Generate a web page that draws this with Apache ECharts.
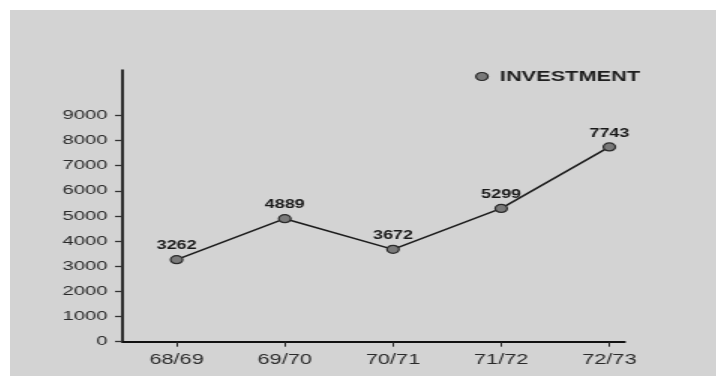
<!DOCTYPE html>
<html>
<head>
<meta charset="utf-8">
<script src="https://cdn.jsdelivr.net/npm/echarts@6/dist/echarts.min.js"></script>
<style>
  html, body { margin: 0; padding: 0; background: #ffffff; width: 716px; height: 376px; overflow: hidden; }
  #wrap { position: absolute; left: 10px; top: 10px; width: 706px; height: 366px; background: #d3d3d3; overflow: hidden; }
  #c { position: absolute; left: 0; top: 0; width: 470.67px; height: 366px; transform: scaleX(1.5); transform-origin: 0 0; }
</style>
</head>
<body>
<div id="wrap"><div id="c"></div></div>
<script>
const categories = ['68/69', '69/70', '70/71', '71/72', '72/73'];
const investment = [3262, 4889, 3672, 5299, 7743];
const yTicks = [0, 1000, 2000, 3000, 4000, 5000, 6000, 7000, 8000, 9000];
const seriesName = 'INVESTMENT';

const FONT = "'Liberation Sans', Arial, Helvetica, sans-serif";
const xIdx = categories.map((c, i) => i);

const chart = echarts.init(document.getElementById('c'), null, { renderer: 'canvas' });
chart.setOption({
  animation: false,
  backgroundColor: 'transparent',
  grid: { left: 75, top: 60, right: 61.33, bottom: 34.3, containLabel: false },
  legend: {
    data: [seriesName],
    left: 305,
    top: 54,
    icon: 'circle',
    itemWidth: 8,
    itemHeight: 8,
    itemStyle: { color: '#7a7a7a', borderColor: '#2a2a2a', borderWidth: 1.2 },
    textStyle: { fontFamily: FONT, fontSize: 14.5, fontWeight: 'bold', color: '#1e1e1e', padding: [0, 0, 0, 3] }
  },
  xAxis: {
    type: 'value',
    min: -0.5,
    max: 4.14,
    splitLine: { show: false },
    axisLine: { show: true, onZero: false, lineStyle: { color: '#111', width: 2 } },
    axisTick: { show: true, customValues: xIdx, length: 5, lineStyle: { color: '#222', width: 1 } },
    axisLabel: {
      customValues: xIdx,
      formatter: v => categories[Math.round(v)] || '',
      margin: 11,
      fontFamily: FONT, fontSize: 14.5, color: '#2a2a2a'
    }
  },
  yAxis: {
    type: 'value',
    min: 0,
    max: 10800,
    splitLine: { show: false },
    axisLine: { show: true, onZero: false, lineStyle: { color: '#111', width: 1.7 } },
    axisTick: { show: true, customValues: yTicks, length: 5, lineStyle: { color: '#333', width: 1.3 } },
    axisLabel: {
      customValues: yTicks,
      formatter: v => String(v),
      margin: 10,
      fontFamily: FONT, fontSize: 13.5, color: '#2a2a2a'
    }
  },
  series: [{
    name: seriesName,
    type: 'line',
    data: investment.map((v, i) => [i, v]),
    symbol: 'circle',
    symbolSize: 8,
    lineStyle: { color: '#1a1a1a', width: 1.5 },
    itemStyle: { color: '#7a7a7a', borderColor: '#2a2a2a', borderWidth: 1.2 },
    label: {
      show: true, position: 'top', distance: 3,
      fontFamily: FONT, fontSize: 12, fontWeight: 'bold', color: '#1a1a1a',
      formatter: p => String(p.value[1])
    }
  }]
});
</script>
</body>
</html>
